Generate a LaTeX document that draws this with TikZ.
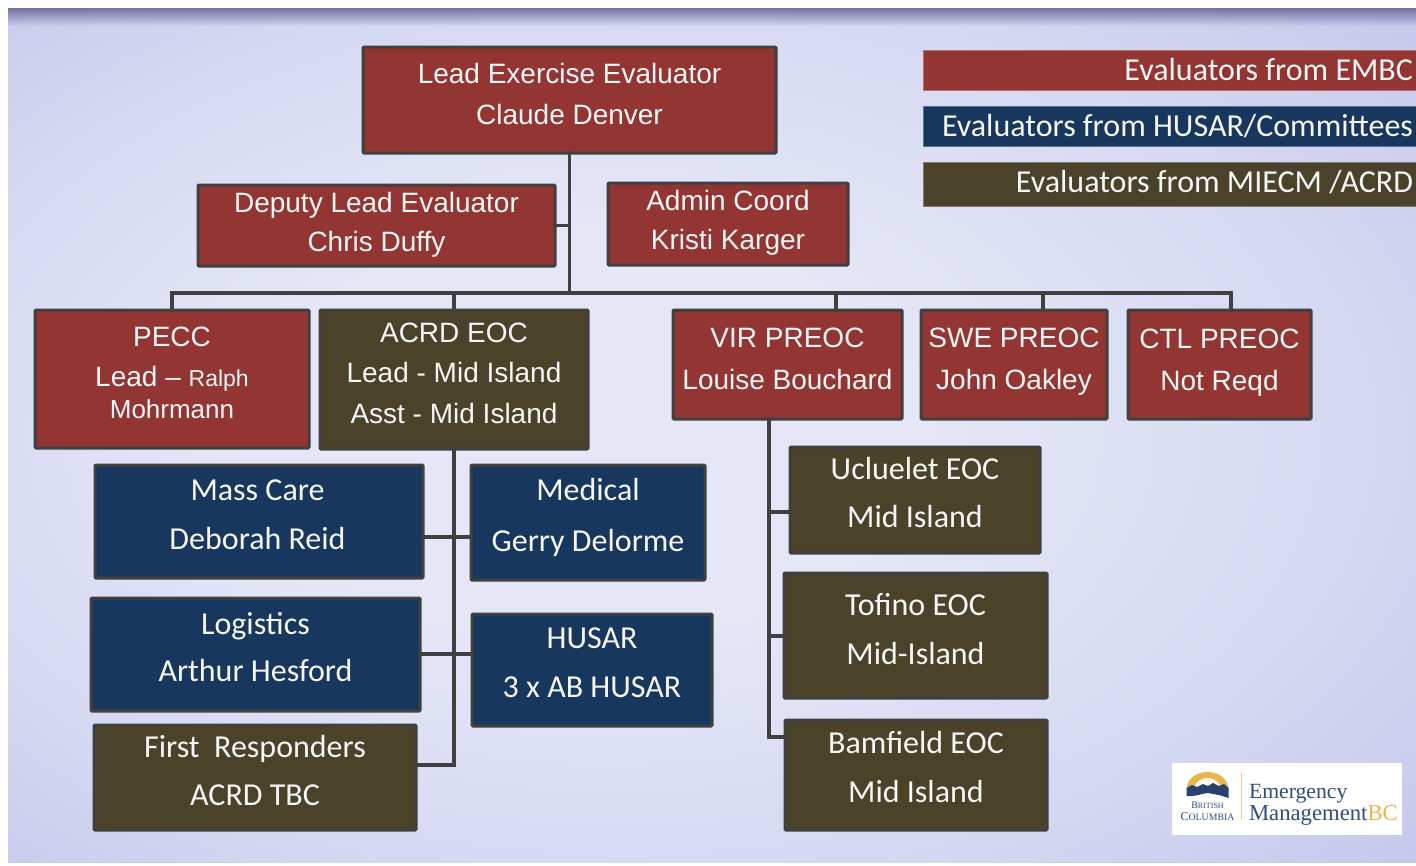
\documentclass[tikz,border=0pt]{standalone}
\usepackage{fontspec}
\setmainfont{Liberation Sans}
\newfontfamily\calfont{Carlito}
\newfontfamily\logofont{Liberation Serif}
\usetikzlibrary{fadings,shadings}
\definecolor{bgdark}{HTML}{C3C6EA}
\definecolor{bgmid}{HTML}{D4D7F1}
\definecolor{bglight}{HTML}{E5E7F7}
\definecolor{redbox}{HTML}{933533}
\definecolor{olivebox}{HTML}{4A432A}
\definecolor{bluebox}{HTML}{17375E}
\definecolor{linegrey}{HTML}{404040}
\definecolor{boxtext}{HTML}{F6F6F6}
\definecolor{logoblue}{HTML}{2E4E80}
\definecolor{logogold}{HTML}{E8B64C}
\pgfdeclareradialshading{bgshade}{\pgfpoint{-6bp}{0bp}}{color(0bp)=(bglight); color(12bp)=(bglight); color(27bp)=(bgmid); color(38bp)=(bgdark); color(50bp)=(bgdark)}
\tikzset{
  orgbase/.style={draw=linegrey,line width=3pt,rounded corners=1pt,inner sep=0pt,outer sep=0pt,text=boxtext},
  arial/.style={font=\fontsize{28}{28}\selectfont},
  carl/.style={font=\calfont\fontsize{32}{32}\selectfont},
  redstyle/.style={orgbase,fill=redbox,arial},
  olivearial/.style={orgbase,fill=olivebox,arial},
  olivestyle/.style={orgbase,fill=olivebox,carl},
  bluestyle/.style={orgbase,fill=bluebox,carl},
  legendbase/.style={draw=#1!70!white,line width=0.8pt,fill=#1,inner sep=0pt,outer sep=0pt,text=boxtext,carl},
  conn/.style={draw=linegrey,line width=3.5pt,line cap=rect},
  logoserif/.style={inner sep=0pt,outer sep=0pt,text=logoblue,anchor=base},
}
% name, style, x1, y1, x2, y2, first baseline, leading, lines
\newcommand\orgbox[9]{%
  \pgfmathsetmacro\cxv{(#3+#5)/2}%
  \pgfmathsetmacro\cyv{(#4+#6)/2}%
  \pgfmathsetmacro\wv{#5-#3}%
  \pgfmathsetmacro\hv{#6-#4}%
  \pgfmathsetmacro\pwv{#5-#3-6}%
  \pgfmathsetmacro\rv{\cyv-#7}%
  \node[#2,minimum width=\wv pt,minimum height=\hv pt] (#1) at (\cxv,\cyv)
    {\smash{\raisebox{\rv pt}{\parbox[t]{\pwv pt}{\centering\baselineskip=#8pt\relax #9}}}};%
}
\begin{document}
\begin{tikzpicture}[x=1pt,y=-1pt]
\useasboundingbox (0,0) rectangle (1416,865);
\fill[white] (0,0) rectangle (1416,865);
\path[shading=bgshade] (8,8) rectangle (1416,862);
\fill[color=black!65!blue!55!white,path fading=south] (8,8) rectangle (1416,26);

% boxes
\orgbox{lead}{redstyle}{363}{47}{776}{153}{83}{41}{Lead Exercise Evaluator\\Claude Denver}
\orgbox{deputy}{redstyle}{198}{185}{555}{266}{212}{39}{Deputy Lead Evaluator\\Chris Duffy}
\orgbox{admin}{redstyle}{608}{183}{848}{265}{210}{39}{Admin Coord\\Kristi Karger}
\orgbox{pecc}{redstyle}{35}{310}{309}{448}{346}{40}{PECC\\Lead -- {\fontsize{23}{23}\selectfont Ralph}\\[-8pt]{\fontsize{26}{26}\selectfont Mohrmann}}
\orgbox{acrd}{olivearial}{320}{310}{588}{449}{342}{40.5}{ACRD EOC\\Lead - Mid Island\\Asst - Mid Island}
\orgbox{vir}{redstyle}{673}{310}{902}{419}{347}{42}{VIR PREOC\\Louise Bouchard}
\orgbox{swe}{redstyle}{921}{310}{1107}{419}{347}{42}{SWE PREOC\\John Oakley}
\orgbox{ctl}{redstyle}{1128}{310}{1311}{419}{348}{42}{CTL PREOC\\Not Reqd}
\orgbox{mass}{bluestyle}{95}{465}{423}{578}{500}{49}{\hspace*{-3pt}Mass Care\\\hspace*{-3pt}Deborah Reid}
\orgbox{medical}{bluestyle}{471}{465}{705}{580}{500}{51}{Medical\\Gerry Delorme}
\orgbox{logistics}{bluestyle}{91}{598}{420}{711}{634}{47}{Logistics\\Arthur Hesford}
\orgbox{husar}{bluestyle}{472}{614}{712}{726}{648}{49}{HUSAR\\3 x AB HUSAR}
\orgbox{first}{olivestyle}{94}{725}{416}{830}{757}{48}{First\ \ Responders\\ACRD TBC}
\orgbox{ucluelet}{olivestyle}{790}{447}{1040}{553}{479}{48}{Ucluelet EOC\\Mid Island}
\orgbox{tofino}{olivestyle}{784}{573}{1047}{698}{615}{49}{Tofino EOC\\Mid-Island}
\orgbox{bamfield}{olivestyle}{785}{720}{1047}{830}{753}{49}{Bamfield EOC\\Mid Island}

% legend
\orgbox{legA}{legendbase=redbox}{923}{50}{1416}{90}{80}{30}{\raggedleft Evaluators from EMBC}
\orgbox{legB}{legendbase=bluebox}{923}{106}{1416}{146}{136}{30}{\raggedleft Evaluators from HUSAR/Committees}
\orgbox{legC}{legendbase=olivebox}{923}{162}{1416}{206}{192}{30}{\raggedleft Evaluators from MIECM /ACRD}

% connector helper points
\coordinate (busy) at (570,293);
\coordinate (virdrop) at (836,310);
\coordinate (swedrop) at (1043,310);
\coordinate (ctldrop) at (1231,310);
\coordinate (virtrunk) at (769,419);
\coordinate (rowmass) at (454,537);
\coordinate (rowlog) at (454,654);
\coordinate (rowfirst) at (454,765);
\coordinate (rowuc) at (769,512);
\coordinate (rowtof) at (769,636);
\coordinate (rowbam) at (769,737);

% connectors
\draw[conn] (lead.south) -- (lead.south |- busy);
\draw[conn] (deputy.east) -- (deputy.east -| lead.south);
\draw[conn] (busy -| pecc.north) -- (busy -| ctldrop);
\draw[conn] (busy -| pecc.north) -- (pecc.north);
\draw[conn] (busy -| acrd.north) -- (acrd.north);
\draw[conn] (busy -| virdrop) -- (virdrop);
\draw[conn] (busy -| swedrop) -- (swedrop);
\draw[conn] (busy -| ctldrop) -- (ctldrop);
\draw[conn] (acrd.south) -- (rowfirst);
\draw[conn] (rowmass -| mass.east) -- (rowmass -| medical.west);
\draw[conn] (rowlog -| logistics.east) -- (rowlog -| husar.west);
\draw[conn] (rowfirst -| first.east) -- (rowfirst);
\draw[conn] (virtrunk) -- (rowbam);
\draw[conn] (rowuc) -- (rowuc -| ucluelet.west);
\draw[conn] (rowtof) -- (rowtof -| tofino.west);
\draw[conn] (rowbam) -- (rowbam -| bamfield.west);

% logo
\fill[white] (1172,763) rectangle (1402,835);
\fill[logogold] (1186.5,790) .. controls (1186.5,779) and (1196,772) .. (1207.5,772) .. controls (1219,772) and (1228.5,779) .. (1228.5,790) -- cycle;
\fill[white!85!logogold] (1194,790) .. controls (1194,783) and (1200,778) .. (1207.5,778) .. controls (1215,778) and (1221,783) .. (1221,790) -- cycle;
\fill[white] (1207.5,788) circle (7);
\fill[logoblue!85!black] (1186.5,788) -- (1192,785) -- (1197,787) -- (1203,784) -- (1208,786) -- (1213,783) -- (1219,786) -- (1224,784) -- (1228.5,788)
  -- (1228.5,798) .. controls (1220,795) and (1214,794) .. (1207.5,793) .. controls (1200,794) and (1194,797) .. (1186.5,796) -- cycle;
\node[logoserif] (bctop) at (1207.5,808) {\logofont\fontsize{10}{10}\selectfont B{\fontsize{8}{8}\selectfont RITISH}};
\node[logoserif] (bcbot) at (1207.5,820.5) {\logofont\fontsize{12}{12}\selectfont C{\fontsize{9.8}{9.8}\selectfont OLUMBIA}};
\draw[logogold!70!white,line width=1pt] (1241,773) -- (1241,820);
\node[logoserif,anchor=base west] (emg) at (1249,798) {\logofont\fontsize{21.7}{21.7}\selectfont Emergency};
\node[logoserif,anchor=base west] (mgt) at (1249,820) {\logofont\fontsize{22.7}{22.7}\selectfont Management\textcolor{logogold}{BC}};
\end{tikzpicture}
\end{document}
